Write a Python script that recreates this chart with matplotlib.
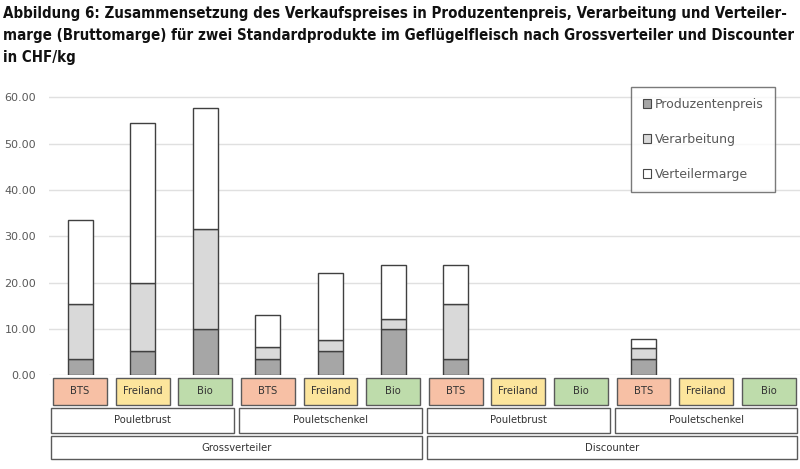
import numpy as np
import matplotlib
matplotlib.use("Agg")
import matplotlib.pyplot as plt
from matplotlib.patches import Rectangle, Patch
from matplotlib import transforms

# ===============================
# Daten (CHF/kg)
# ===============================
haendler = ["Grossverteiler", "Discounter"]
produkte = ["Pouletbrust", "Pouletschenkel"]
labels = ["BTS", "Freiland", "Bio"]

produzentenpreis = [3.4, 5.3, 9.9, 3.4, 5.3, 9.9, 3.4, np.nan, np.nan, 3.4, np.nan, np.nan]
verarbeitung = [12.0, 14.5, 21.7, 2.6, 2.4, 2.3, 12.0, np.nan, np.nan, 2.5, np.nan, np.nan]
verteilermarge = [18.1, 34.6, 26.0, 7.0, 14.4, 11.5, 8.3, np.nan, np.nan, 2.0, np.nan, np.nan]

serien = ["Produzentenpreis", "Verarbeitung", "Verteilermarge"]
farben = ["#a6a6a6", "#d9d9d9", "#ffffff"]
label_farben = {"BTS": "#f7c0a5", "Freiland": "#fce59c", "Bio": "#bedcab"}

titel = ("Abbildung 6: Zusammensetzung des Verkaufspreises in Produzentenpreis, Verarbeitung und Verteiler-\n"
         "marge (Bruttomarge) für zwei Standardprodukte im Geflügelfleisch nach Grossverteiler und Discounter\n"
         "in CHF/kg")

# ===============================
# Grafik
# ===============================
fig = plt.figure(figsize=(8, 4.69), dpi=100)
ax = fig.add_axes([0.061, 0.2, 0.939, 0.6166])

x = np.arange(len(produzentenpreis))
p = np.array(produzentenpreis, dtype=float)
v = np.array(verarbeitung, dtype=float)
m = np.array(verteilermarge, dtype=float)

for werte, unten, farbe, name in [(p, None, farben[0], serien[0]),
                                   (v, p, farben[1], serien[1]),
                                   (m, p + v, farben[2], serien[2])]:
    ax.bar(x, werte, width=0.4, bottom=unten, color=farbe,
           edgecolor="#404040", linewidth=1.0, label=name, zorder=3)

ax.set_xlim(-0.5, 11.5)
ax.set_ylim(0, 62.44)
ax.set_yticks(np.arange(0, 61, 10))
ax.set_yticklabels([f"{t:.2f}" for t in np.arange(0, 61, 10)])
ax.tick_params(axis="y", length=0, pad=9, labelsize=8, labelcolor="#595959")
ax.tick_params(axis="x", length=0, labelbottom=False)
ax.grid(axis="y", color="#e0e0e0", linewidth=1.0, zorder=0)
for s in ax.spines.values():
    s.set_visible(False)

handles = [Patch(facecolor=farben[i], edgecolor="#474747", linewidth=0.8, label=serien[i]) for i in range(3)]
leg = ax.legend(handles=handles, loc="upper right", bbox_to_anchor=(0.967, 0.997),
                frameon=True, fancybox=False, edgecolor="#595959", fontsize=9,
                labelcolor="#595959", handlelength=0.7, handleheight=0.7,
                handletextpad=0.3, labelspacing=1.75, borderpad=0.9,
                borderaxespad=0)
leg.get_frame().set_linewidth(1.0)
leg.set_zorder(5)

# --- Kategorien-Kästchen unter der Achse ---
trans = transforms.blended_transform_factory(ax.transData, fig.transFigure)

def kasten(x0, x1, y0, y1, text, farbe):
    ax.add_patch(Rectangle((x0, y0), x1 - x0, y1 - y0, transform=trans,
                           facecolor=farbe, edgecolor="#5a5a5a", linewidth=1.0,
                           clip_on=False))
    ax.text((x0 + x1) / 2, (y0 + y1) / 2, text, transform=trans, ha="center",
            va="center", fontsize=8, color="#333333", fontstretch="condensed")

i = 0
for h in haendler:
    start_h = i
    for pr in produkte:
        start_p = i
        for lab in labels:
            kasten(i - 0.43, i + 0.43, 0.137, 0.195, lab, label_farben[lab])
            i += 1
        kasten(start_p - 0.46, i - 1 + 0.46, 0.077, 0.130, pr, "white")
    kasten(start_h - 0.46, i - 1 + 0.46, 0.021, 0.070, h, "white")

fig.text(0.004, 0.988, titel, ha="left", va="top", fontsize=10.8,
         fontweight="bold", fontstretch="condensed", linespacing=1.6, color="#111111")

fig.savefig("out.png", dpi=100)
